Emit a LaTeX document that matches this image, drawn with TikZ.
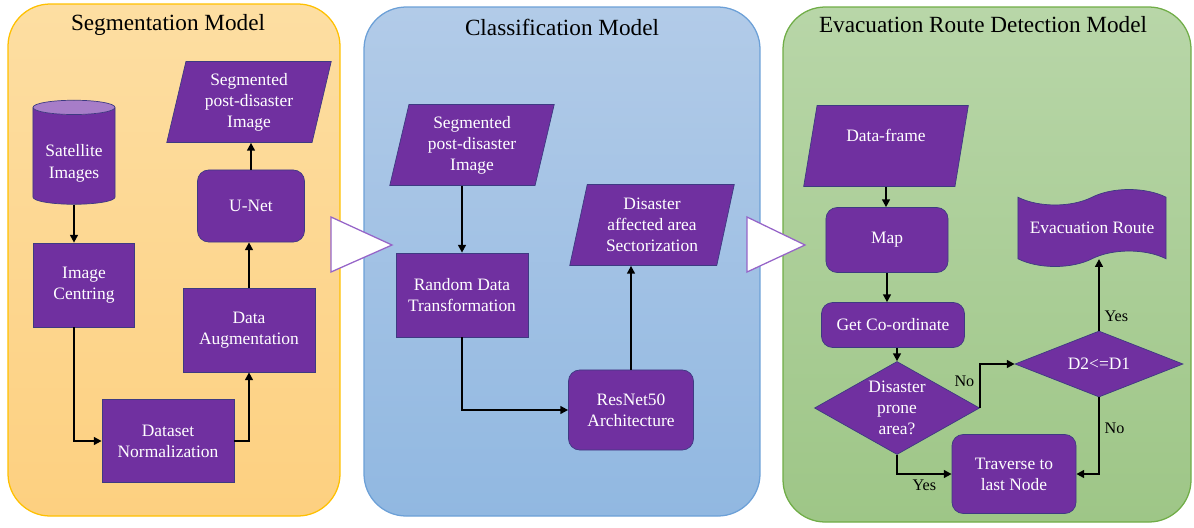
\documentclass[tikz,border=0pt]{standalone}
\usepackage{fontspec}
\setmainfont{Liberation Serif}
\usetikzlibrary{shapes.geometric,shapes.symbols,arrows.meta}
\definecolor{erd-purple}{RGB}{112,48,160}
\definecolor{erd-edge}{RGB}{62,58,130}
\definecolor{erd-lilac}{RGB}{167,125,200}
\definecolor{erd-arrow}{RGB}{150,100,200}
\definecolor{seg-top}{RGB}{253,222,162}
\definecolor{seg-bot}{RGB}{253,208,128}
\definecolor{seg-line}{RGB}{255,192,0}
\definecolor{cls-top}{RGB}{178,203,232}
\definecolor{cls-bot}{RGB}{145,184,225}
\definecolor{cls-line}{RGB}{108,160,215}
\definecolor{evc-top}{RGB}{184,214,168}
\definecolor{evc-bot}{RGB}{158,198,135}
\definecolor{evc-line}{RGB}{112,173,71}

\begin{document}
\begin{tikzpicture}[x=0.025cm, y=-0.025cm,
    box/.style={rectangle, fill=erd-purple, draw=erd-edge, line width=0.5pt, text=white,
        align=center, inner sep=0pt, font=\fontsize{12.4}{15}\selectfont},
    roundbox/.style={box, rounded corners=8pt},
    iobox/.style={box, trapezium, trapezium left angle=77, trapezium right angle=103,
        trapezium stretches=true, minimum width=4.125cm, minimum height=2.025cm},
    decision/.style={box, diamond},
    flow/.style={line width=1.3pt, -{Triangle[length=5.5pt,width=5.5pt]}},
    tag/.style={font=\fontsize{11.5}{13}\selectfont},
    title/.style={font=\fontsize{16.5}{19}\selectfont},
    panel/.style={rounded corners=30pt, line width=0.9pt},
    bigarrow/.style={fill=white, draw=erd-arrow, line width=0.9pt}]
    \useasboundingbox (0,0) rectangle (1194,527);

    % the three model panels
    \draw[panel, draw=seg-line, top color=seg-top, bottom color=seg-bot] (8,4) rectangle (340,516);
    \draw[panel, draw=cls-line, top color=cls-top, bottom color=cls-bot] (364,7) rectangle (760,516);
    \draw[panel, draw=evc-line, top color=evc-top, bottom color=evc-bot] (783,7) rectangle (1191,522);
    \node[title] (segtitle) at (168,25) {Segmentation Model};
    \node[title] (clstitle) at (562,27) {Classification Model};
    \node[title] (evctitle) at (983,25) {Evacuation Route Detection Model};

    \draw[bigarrow] (331,217) -- (392,245) -- (331,272) -- cycle;
    \draw[bigarrow] (747,217) -- (805,245) -- (747,272) -- cycle;

    % segmentation
    \node[box, fill=none, cylinder, shape border rotate=90, aspect=0.25, cylinder uses custom fill,
        cylinder body fill=erd-purple, cylinder end fill=erd-lilac,
        minimum width=2.05cm, minimum height=2.6cm] (sat) at (74,156) {\\[4pt]Satellite\\Images};
    \node[box, minimum width=2.525cm, minimum height=2.1cm] (centring) at (84,285) {Image\\Centring};
    \node[box, minimum width=3.3cm, minimum height=2.075cm] (norm) at (168,441) {Dataset\\Normalization};
    \node[box, minimum width=3.3cm, minimum height=2.1cm] (augment) at (249,330) {Data\\Augmentation};
    \node[roundbox, minimum width=2.675cm, minimum height=1.8cm] (unet) at (251,206) {U-Net};
    \node[iobox] (segout) at (249,102) {Segmented\\post-disaster\\Image};

    \draw[flow] (sat.south) -- (sat.south |- centring.north);
    \draw[flow] (centring.south -| sat.south) |- (norm.west);
    \draw[flow] (norm.east) -| (augment.south);
    \draw[flow] (augment.north) -- (augment.north |- unet.south);
    \draw[flow] (unet.north) -- (unet.north |- segout.south);

    % classification
    \node[iobox] (segin) at (472,145) {Segmented\\post-disaster\\Image};
    \node[box, minimum width=3.3cm, minimum height=2.1cm] (randtf) at (462,295) {Random Data\\Transformation};
    \node[roundbox, minimum width=3.125cm, minimum height=2cm] (resnet) at (631,410) {ResNet50\\Architecture};
    \node[iobox] (sector) at (652,225) {Disaster\\affected area\\Sectorization};

    \draw[flow] (segin.south -| randtf.north) -- (randtf.north);
    \draw[flow] (randtf.south) |- (resnet.west);
    \draw[flow] (resnet.north) -- (resnet.north |- sector.south);

    % evacuation route
    \node[iobox] (frame) at (886,146) {Data-frame\\\mbox{}};
    \node[roundbox, minimum width=3.05cm, minimum height=1.625cm] (map) at (887,240) {Map};
    \node[roundbox, minimum width=3.575cm, minimum height=1.125cm] (coord) at (893,325) {Get Co-ordinate};
    \node[decision, aspect=1.77, minimum width=4.125cm, minimum height=2.325cm] (prone) at (897,408) {Disaster\\prone\\area?};
    \node[decision, aspect=2.5, minimum width=4.2cm, minimum height=1.65cm] (check) at (1099,364) {D2<=D1};
    \node[box, tape, tape bend height=11pt, minimum width=3.7cm, minimum height=1.925cm] (route) at (1092,228) {Evacuation Route};
    \node[roundbox, minimum width=3.1cm, minimum height=1.975cm] (traverse) at (1014,474) {Traverse to\\last Node};

    \draw[flow] (frame.south) -- (frame.south |- map.north);
    \draw[flow] (map.south) -- (map.south |- coord.north);
    \draw[flow] (coord.south -| prone.north) -- (prone.north);
    \draw[flow] (prone.east) |- node[tag, pos=0.3, left] {No} (check.west);
    \draw[flow] (prone.south) |- node[tag, pos=0.75, below] {Yes} (traverse.west);
    \draw[flow] (check.north) -- node[tag, pos=0.2, right] {Yes} (check.north |- route.south);
    \draw[flow] (check.south) |- node[tag, pos=0.2, right] {No} (traverse.east);
\end{tikzpicture}
\end{document}
